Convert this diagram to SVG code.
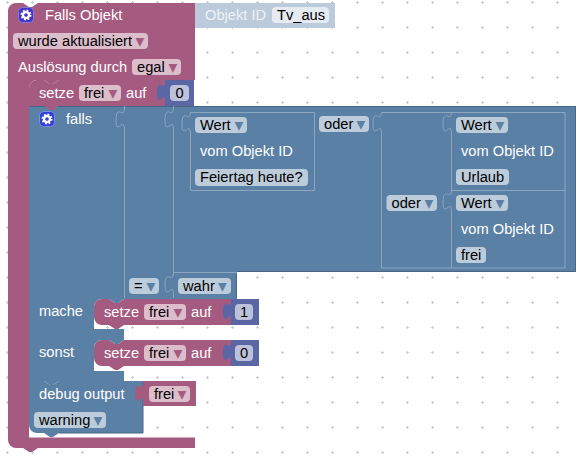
<svg xmlns="http://www.w3.org/2000/svg" width="578" height="469" viewBox="0 0 578 469">
<style>
text{font-family:"Liberation Sans",Arial,sans-serif;font-size:14.67px;white-space:pre}
.l{fill:#fff}
.d{fill:#000}
.pb{fill:#bdccdb}
.pp{fill:#dbbdcc}
.pi{fill:#bdc2db}
.bb{fill:#5b80a5}
.bp{fill:#a55b80}
.bi{fill:#5b67a5}
.ab,.ap{font-family:"DejaVu Sans",sans-serif;font-size:17.5px;text-anchor:middle}
.ab{fill:#5b80a5}
.ap{fill:#a55b80}
.ln{fill:none;stroke:#8ca6c0;stroke-width:1}
.dk{fill:none;stroke:#496684;stroke-width:1}
.tb{fill:#5b80a5;stroke:#8ca6c0;stroke-width:1}
</style>
<defs>
<pattern id="grid" patternUnits="userSpaceOnUse" x="0" y="0" width="25" height="25">
<rect x="6" y="2" width="3" height="1" fill="#ccc"/><rect x="7" y="1" width="1" height="3" fill="#ccc"/>
</pattern>
<path id="tab" d="M0,0c0,8 -8,-6 -8,10s8,-2 8,7"/>
<g id="gear"><circle r="3" fill="none" stroke="#fff" stroke-width="2.4"/><circle r="4.6" fill="none" stroke="#fff" stroke-width="1.8" stroke-dasharray="1.8 1.8"/></g>
</defs>
<rect width="578" height="469" fill="#fff"/>
<rect width="578" height="469" fill="url(#grid)"/>

<g id="connectors"></g>

<g id="objekt-id">
<path d="M195,3H335V28H195z" fill="#bccbdc"/>
<use href="#tab" x="195" y="6" fill="#bccbdc"/>
<text x="205" y="20" fill="#eef2f6">Objekt ID</text>
<rect x="272" y="7" width="57" height="16" rx="4" fill="#e5ebf1"/>
<text x="277" y="20" class="d">Tv_aus</text>
</g>

<g id="falls-objekt">
<path class="bp" d="M8,11a8,8 0 0 1 8,-8h7l6,4h3l6,-4H195V80H59l-6,4h-3l-6,-4H37a8,8 0 0 0 -8,8V437.500H195V448H38l-6,4h-3l-6,-4H16a8,8 0 0 1 -8,-8z"/>
<rect x="18.500" y="7.500" width="15" height="15" rx="4" fill="#4433cc" stroke="#8c7cc8"/>
<use href="#gear" x="26" y="15"/>
<text x="45" y="20" class="l">Falls Objekt</text>
<rect x="13" y="33" width="135" height="16" rx="4" class="pp"/>
<text x="18" y="46" class="d">wurde aktualisiert</text>
<text x="140" y="47" class="ap">▾</text>
<text x="18" y="72" class="l">Auslösung durch</text>
<rect x="132" y="59" width="49" height="16" rx="4" class="pp"/>
<text x="137" y="72" class="d">egal</text>
<text x="173" y="73" class="ap">▾</text>
</g>

<g id="falls">
<path class="bb" d="M29,106H576V272H237V299H124l-6,4h-3l-6,-4H102a8,8 0 0 0 -8,8V329H124V340l-6,4h-3l-6,-4H102a8,8 0 0 0 -8,8V371H124V381H59l-6,4h-3l-6,-4H29z"/>
<path class="dk" d="M29,106.500H576M575.500,106V272M576,271.500H237M236.500,272V298"/>
<path class="ln" d="M124.500,106V110M124.500,127V298M173.500,106V110M173.500,127V275M173.500,292V298M173,272.500H237"/>
<use href="#tab" x="124" y="110" class="tb"/>
<use href="#tab" x="173" y="110" class="tb"/>
<rect x="39.500" y="111.500" width="15" height="15" rx="4" fill="#2f3fd8" stroke="#8090e0"/>
<use href="#gear" x="47" y="119"/>
<text x="66" y="124" class="l">falls</text>
<path class="ln" d="M190.500,114V112.500H314.500V190.500H190.500V131"/>
<use href="#tab" x="190" y="114" class="tb"/>
<rect x="195" y="117" width="52" height="16" rx="4" class="pb"/>
<text x="200" y="130" class="d">Wert</text>
<text x="239" y="131" class="ab">▾</text>
<text x="200" y="156" class="l">vom Objekt ID</text>
<rect x="195" y="169" width="113" height="17" rx="4" class="pb"/>
<text x="200" y="182" class="d">Feiertag heute?</text>
<rect x="319" y="116" width="50" height="16" rx="4" class="pb"/>
<text x="324" y="129" class="d">oder</text>
<text x="361" y="130" class="ab">▾</text>
<path class="ln" d="M381.500,114V112.500H565V268H381.500V131M451.500,112V114M451.500,131V192M451.500,209V268M451,190.500H565"/>
<use href="#tab" x="381" y="114" class="tb"/>
<use href="#tab" x="451" y="114" class="tb"/>
<use href="#tab" x="451" y="192" class="tb"/>
<rect x="456" y="117" width="52" height="16" rx="4" class="pb"/>
<text x="461" y="130" class="d">Wert</text>
<text x="500" y="131" class="ab">▾</text>
<text x="461" y="156" class="l">vom Objekt ID</text>
<rect x="456" y="169" width="53" height="16" rx="4" class="pb"/>
<text x="461" y="182" class="d">Urlaub</text>
<rect x="386.500" y="195" width="50.500" height="16" rx="4" class="pb"/>
<text x="391.500" y="208" class="d">oder</text>
<text x="429" y="209" class="ab">▾</text>
<rect x="456" y="195" width="52" height="16" rx="4" class="pb"/>
<text x="461" y="208" class="d">Wert</text>
<text x="500" y="209" class="ab">▾</text>
<text x="461" y="234" class="l">vom Objekt ID</text>
<rect x="456" y="247" width="30" height="16" rx="4" class="pb"/>
<text x="461" y="260" class="d">frei</text>
<rect x="129" y="278" width="30" height="16" rx="4" class="pb"/>
<text x="134" y="291" class="d">=</text>
<text x="151" y="292" class="ab">▾</text>
<use href="#tab" x="173" y="275" class="tb"/>
<rect x="178" y="278" width="53" height="16" rx="4" class="pb"/>
<text x="183" y="291" class="d">wahr</text>
<text x="222.500" y="292" class="ab">▾</text>
<text x="39" y="316" class="l">mache</text>
<text x="39" y="357" class="l">sonst</text>
</g>

<g id="setze-0-top">
<path class="bp" d="M29,88a8,8 0 0 1 8,-8h7l6,4h3l6,-4H165V106H59l-6,4h-3l-6,-4H29z"/>
<text x="39" y="98" class="l">setze</text>
<rect x="79" y="85" width="42" height="16" rx="4" class="pp"/>
<text x="84" y="98" class="d">frei</text>
<text x="113" y="99" class="ap">▾</text>
<text x="126" y="98" class="l">auf</text>
<path class="bi" d="M165,80H194V106H165z"/>
<use href="#tab" x="165" y="83" class="bi"/>
<rect x="170" y="85" width="19" height="16" rx="4" class="pi"/>
<text x="175.500" y="98" class="d">0</text>
</g>

<g id="setze-1">
<path class="bp" d="M94,307a8,8 0 0 1 8,-8h7l6,4h3l6,-4H231V325H124l-6,4h-3l-6,-4H102a8,8 0 0 1 -8,-8z"/>
<text x="104" y="317" class="l">setze</text>
<rect x="144" y="304" width="42" height="16" rx="4" class="pp"/>
<text x="149" y="317" class="d">frei</text>
<text x="178" y="318" class="ap">▾</text>
<text x="191" y="317" class="l">auf</text>
<path class="bi" d="M231,299H259V325H231z"/>
<use href="#tab" x="231" y="302" class="bi"/>
<rect x="235" y="304" width="18" height="16" rx="4" class="pi"/>
<text x="240" y="317" class="d">1</text>
</g>

<g id="setze-0">
<path class="bp" d="M94,348a8,8 0 0 1 8,-8h7l6,4h3l6,-4H231V366H124l-6,4h-3l-6,-4H102a8,8 0 0 1 -8,-8z"/>
<text x="104" y="358" class="l">setze</text>
<rect x="144" y="345" width="42" height="16" rx="4" class="pp"/>
<text x="149" y="358" class="d">frei</text>
<text x="178" y="359" class="ap">▾</text>
<text x="191" y="358" class="l">auf</text>
<path class="bi" d="M231,340H259V366H231z"/>
<use href="#tab" x="231" y="343" class="bi"/>
<rect x="235" y="345" width="18" height="16" rx="4" class="pi"/>
<text x="240" y="358" class="d">0</text>
</g>

<g id="debug-output">
<path class="bb" d="M29,381H44l6,4h3l6,-4H143V433H59l-6,4h-3l-6,-4H37a8,8 0 0 1 -8,-8z"/>
<path class="dk" d="M143,381V433H59"/>
<text x="39" y="399" class="l">debug output</text>
<rect x="34" y="412" width="72" height="16" rx="4" class="pb"/>
<text x="39" y="425" class="d">warning</text>
<text x="98" y="426" class="ab">▾</text>
<path class="bp" d="M143,381H196V406H143z"/>
<use href="#tab" x="143" y="384" class="bp"/>
<rect x="149" y="386" width="41" height="16" rx="4" class="pp"/>
<text x="154" y="399" class="d">frei</text>
<text x="182" y="400" class="ap">▾</text>
</g>
</svg>
